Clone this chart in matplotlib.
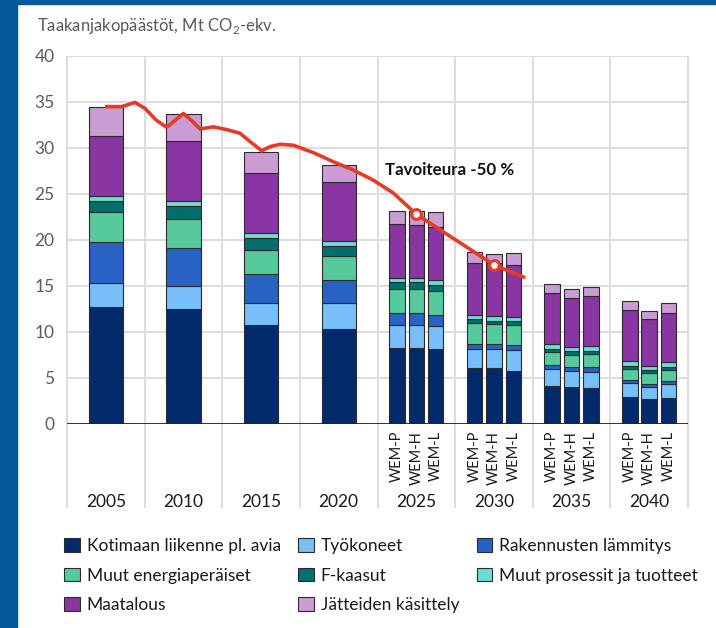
import matplotlib
matplotlib.use("Agg")
import matplotlib.pyplot as plt
from matplotlib.patches import Rectangle
import numpy as np

plt.rcParams['font.family'] = ['Lato', 'DejaVu Sans']
plt.rcParams['mathtext.fontset'] = 'custom'
plt.rcParams['mathtext.rm'] = 'Lato'

# Groups and scenarios
hist_years = ['2005', '2010', '2015', '2020']
proj_years = ['2025', '2030', '2035', '2040']
scenarios = ['WEM-P', 'WEM-H', 'WEM-L']

# Values (Mt CO2-ekv.): 4 historical bars, then 2025 P/H/L, 2030 P/H/L, 2035 P/H/L, 2040 P/H/L
kotimaan = [12.7, 12.5, 10.8, 10.3, 8.3, 8.3, 8.15, 6.05, 6.05, 5.8, 4.13, 4.0, 3.9, 2.9, 2.7, 2.8]
tyokoneet = [2.6, 2.5, 2.4, 2.8, 2.5, 2.5, 2.45, 2.15, 2.15, 2.2, 1.8, 1.75, 1.8, 1.6, 1.35, 1.6]
rakennusten = [4.5, 4.1, 3.1, 2.5, 1.3, 1.3, 1.3, 0.55, 0.55, 0.6, 0.45, 0.45, 0.5, 0.25, 0.35, 0.3]
muut_energia = [3.2, 3.2, 2.6, 2.7, 2.6, 2.6, 2.6, 2.2, 2.1, 2.2, 1.45, 1.35, 1.4, 1.25, 1.1, 1.15]
f_kaasut = [1.2, 1.4, 1.3, 1.0, 0.7, 0.7, 0.6, 0.45, 0.4, 0.4, 0.35, 0.35, 0.35, 0.3, 0.35, 0.35]
muut_prosessit = [0.6, 0.5, 0.6, 0.6, 0.5, 0.5, 0.55, 0.5, 0.5, 0.45, 0.5, 0.5, 0.5, 0.5, 0.5, 0.5]
maatalous = [6.5, 6.6, 6.5, 6.4, 5.8, 5.7, 5.8, 5.6, 5.7, 5.65, 5.55, 5.3, 5.45, 5.6, 5.05, 5.4]
jatteiden = [3.2, 2.9, 2.3, 1.9, 1.5, 1.5, 1.55, 1.25, 1.0, 1.3, 1.0, 0.95, 1.0, 0.95, 0.9, 1.0]

series = [
    ('Kotimaan liikenne pl. avia', kotimaan, '#022a6b'),
    ('Työkoneet', tyokoneet, '#76bffb'),
    ('Rakennusten lämmitys', rakennusten, '#2862c4'),
    ('Muut energiaperäiset', muut_energia, '#56ca9c'),
    ('F-kaasut', f_kaasut, '#006f6b'),
    ('Muut prosessit ja tuotteet', muut_prosessit, '#6edcd6'),
    ('Maatalous', maatalous, '#8935a2'),
    ('Jätteiden käsittely', jatteiden, '#c99dd3'),
]

# Target path (x in group units, 0 = 2005)
target_x = [-0.01, 0.205, 0.376, 0.505, 0.653, 0.785, 0.892, 0.999, 1.107, 1.214, 1.385,
            1.558, 1.729, 1.858, 2.009, 2.116, 2.245, 2.416, 2.674, 2.932, 3.189, 3.447,
            3.705, 4.0, 4.345, 5.0, 5.402]
target_y = [34.5, 34.5, 34.95, 34.3, 33.0, 32.25, 33.0, 33.75, 32.97, 32.07, 32.3,
            32.0, 31.6, 30.7, 29.7, 30.15, 30.4, 30.3, 29.5, 28.5, 27.6, 26.5,
            25.1, 22.8, 20.9, 17.3, 15.9]
marker_x = [4.0, 5.0]
marker_y = [22.8, 17.3]

# bar positions
xpos = list(range(len(hist_years)))
widths = [0.44] * len(hist_years)
for j in range(len(proj_years)):
    for k in range(len(scenarios)):
        xpos.append(len(hist_years) + j + (k - 1) * 0.25)
        widths.append(0.2)
xpos = np.array(xpos)

fig = plt.figure(figsize=(7.16, 6.28), dpi=100)
fig.patch.set_facecolor('white')
ax = fig.add_axes([67 / 716, 204 / 628, 621 / 716, 368 / 628])

bottom = np.zeros(len(xpos))
handles = []
for name, vals, col in series:
    b = ax.bar(xpos, vals, widths, bottom=bottom, color=col, edgecolor='#2b2b2b',
               linewidth=0.8, label=name, zorder=3)
    handles.append(b)
    bottom += np.array(vals)

ax.plot(target_x, target_y, color='#e63b26', lw=2.6, zorder=5, solid_capstyle='butt',
        solid_joinstyle='round')
ax.plot(marker_x, marker_y, 'o', ms=7, mfc='white', mec='#e63b26', mew=2.2, zorder=6)
ax.text(3.6, 27.6, 'Tavoiteura -50 %', fontsize=12.2, fontweight='bold', color='#111111',
        va='center', ha='left', zorder=7)

ngroups = len(hist_years) + len(proj_years)
ax.set_xlim(-0.5, ngroups - 0.5)
ax.set_ylim(0, 40)
ax.set_yticks(np.arange(0, 41, 5))
ax.yaxis.grid(True, color='#dddddd', lw=1.4, zorder=0)
ax.set_axisbelow(True)
for s in ax.spines.values():
    s.set_visible(False)
ax.axhline(0, color='#222222', lw=2, zorder=4)
ax.vlines(np.arange(-0.5, ngroups), -0.228, 1, transform=ax.get_xaxis_transform(),
          clip_on=False, color='#dddddd', lw=1.4, zorder=0)
ax.tick_params(axis='y', length=0, pad=9, labelsize=12.5, labelcolor='#5c5c5c')

proj_x = xpos[len(hist_years):]
proj_labels = scenarios * len(proj_years)
ax.set_xticks(proj_x, proj_labels, rotation=90, fontsize=10.5, color='#1a1a1a')
ax.tick_params(axis='x', length=0, pad=5)
for lab in ax.get_xticklabels():
    lab.set_va('top')

for i, yr in enumerate(hist_years + proj_years):
    ax.annotate(yr, xy=(i, 0), xycoords=('data', 'axes fraction'), xytext=(0, -56),
                textcoords='offset points', ha='center', va='center', fontsize=12.5,
                color='#1a1a1a')

fig.text(37 / 716, 1 - 26 / 628, r'Taakanjakopäästöt, Mt CO$_\mathregular{2}$-ekv.',
         fontsize=12, color='#5a5a5a', va='center', ha='left')

order = [0, 3, 6, 1, 4, 7, 2, 5]
leg = fig.legend([handles[i] for i in order], [series[i][0] for i in order],
                 ncol=3, loc='upper left', bbox_to_anchor=(64 / 716, 1 - 538 / 628),
                 frameon=False, fontsize=12.5, handlelength=0.9, handleheight=0.85,
                 handletextpad=0.4, columnspacing=1.0, labelspacing=0.78, borderpad=0,
                 borderaxespad=0)
for t in leg.get_texts():
    t.set_color('#1a1a1a')

# blue frame
fig.patches.append(Rectangle((0, 0), 17 / 716, 1, transform=fig.transFigure,
                             color='#045a99', zorder=0))
fig.patches.append(Rectangle((0, 1 - 4 / 628), 1, 4 / 628, transform=fig.transFigure,
                             color='#045a99', zorder=0))

fig.savefig('out.png', dpi=100)
